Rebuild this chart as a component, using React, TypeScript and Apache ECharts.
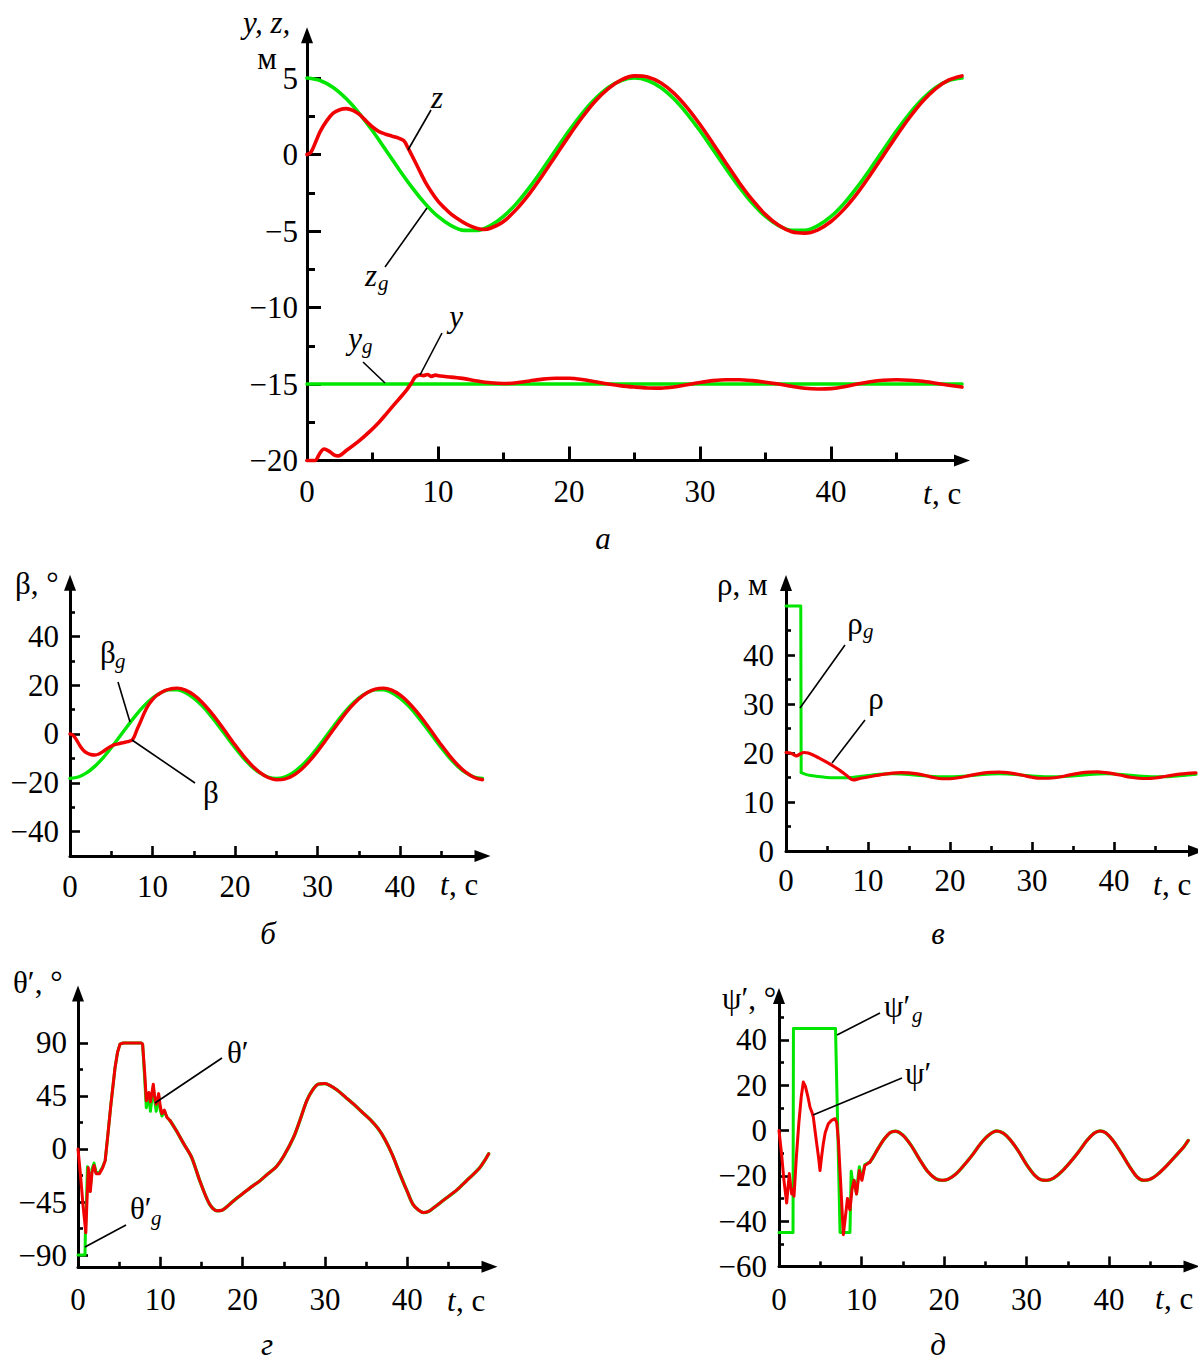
import React, { useEffect, useRef } from 'react';
import * as echarts from 'echarts';

const FONT = '"Liberation Serif", "Times New Roman", serif';
const RED = '#f00000';
const GREEN = '#00e600';
const INK = '#000000';

// ---------- shared time grid (s) ----------
const secs = [0,1,2,3,4,5,6,7,8,9,10,11,12,13,14,15,16,17,18,19,20,21,22,23,24,25,26,27,28,29,30,31,32,33,34,35,36,37,38,39,40,41,42,43,44,45,46,47,48,49,50];

// ---------- panel а : y, z (m) ----------
const zGoal = [5.00,4.84,4.38,3.64,2.68,1.55,0.31,-0.94,-2.13,-3.19,-4.05,-4.65,-4.96,-4.96,-4.65,-4.05,-3.19,-2.13,-0.94,0.31,1.55,2.68,3.64,4.38,4.84,5.00,4.84,4.38,3.64,2.68,1.55,0.31,-0.94,-2.13,-3.19,-4.05,-4.65,-4.96,-4.96,-4.65,-4.05,-3.19,-2.13,-0.94,0.31,1.55,2.68,3.64,4.38,4.84,5.00];
const zReal = [[0,0],[0.3,0.15],[0.7,0.9],[1,1.5],[1.5,2.2],[2,2.7],[2.5,2.93],[3,3.0],[3.5,2.88],[4,2.62],[4.5,2.2],[5,1.8],[5.5,1.5],[6,1.33],[6.5,1.2],[7,1.07],[7.4,0.9],[7.7,0.45],[8,-0.05],[8.5,-0.9],[9,-1.75],[9.5,-2.45],[10,-3.05],[10.5,-3.5],[11,-3.9],[11.5,-4.2],[12,-4.47],[12.5,-4.68],[13,-4.83],[13.5,-4.9],[14,-4.82],[15,-4.38],[16,-3.57],[17,-2.54],[18,-1.34],[19,-0.06],[20,1.22],[21,2.42],[22,3.48],[23,4.31],[24,4.88],[25,5.14],[26,5.07],[27,4.69],[28,4.01],[29,3.08],[30,1.96],[31,0.71],[32,-0.58],[33,-1.84],[34,-2.97],[35,-3.93],[36,-4.63],[37,-5.05],[38,-5.14],[39,-4.92],[40,-4.38],[41,-3.57],[42,-2.54],[43,-1.34],[44,-0.06],[45,1.22],[46,2.42],[47,3.48],[48,4.31],[49,4.88],[50,5.14]];
const yGoal = [[0,-15],[50,-15]];
const yReal = [[0,-20],[0.6,-20],[1,-19.5],[1.3,-19.25],[1.7,-19.4],[2.1,-19.65],[2.4,-19.7],[3,-19.35],[4,-18.7],[4.8,-18.1],[5.5,-17.5],[6.1,-16.9],[7,-16.0],[7.6,-15.4],[8,-14.9],[8.25,-14.55],[8.6,-14.4],[8.9,-14.45],[9.2,-14.38],[9.5,-14.5],[9.8,-14.42],[10.2,-14.48],[11,-14.55],[12,-14.65],[13,-14.8],[14,-14.92],[15,-14.97],[16,-14.92],[17,-14.8],[18,-14.68],[19,-14.62],[20,-14.62],[21,-14.7],[22,-14.85],[23,-15.0],[24,-15.12],[25,-15.2],[26,-15.26],[27,-15.27],[28,-15.2],[29,-15.05],[30,-14.9],[31,-14.78],[32,-14.72],[33,-14.72],[34,-14.78],[35,-14.88],[36,-15.0],[37,-15.15],[38,-15.28],[39,-15.33],[40,-15.3],[41,-15.18],[42,-15.0],[43,-14.85],[44,-14.75],[45,-14.72],[46,-14.75],[47,-14.82],[48,-14.95],[49,-15.08],[50,-15.2]];

// ---------- panel б : β (deg) ----------
const betaGoal = [-18.2,-17.63,-15.95,-13.27,-9.75,-5.62,-1.14,3.41,7.75,11.60,14.72,16.92,18.06,18.06,16.92,14.72,11.60,7.75,3.41,-1.14,-5.62,-9.75,-13.27,-15.95,-17.63,-18.2,-17.63,-15.95,-13.27,-9.75,-5.62,-1.14,3.41,7.75,11.60,14.72,16.92,18.06,18.06,16.92,14.72,11.60,7.75,3.41,-1.14,-5.62,-9.75,-13.27,-15.95,-17.63,-18.2];
const betaReal = [[0,0],[0.4,-0.6],[0.8,-2.5],[1.2,-4.8],[1.6,-6.6],[2,-7.7],[2.5,-8.4],[3,-8.6],[3.5,-8.2],[4,-7.2],[4.5,-6.0],[5,-5.0],[5.5,-4.3],[6,-3.9],[6.5,-3.5],[7,-3.1],[7.5,-2.5],[7.8,-1.0],[8.1,1.6],[8.5,4.6],[9,8.6],[9.5,11.8],[10,14.1],[10.5,15.8],[11,16.9],[11.5,17.8],[12,18.3],[12.5,18.65],[13,18.78],[14,17.95],[15,16.0],[16,13.04],[17,9.26],[18,4.9],[19,0.24],[20,-4.45],[21,-8.85],[22,-12.69],[23,-15.75],[24,-17.81],[25,-18.75],[26,-18.51],[27,-17.11],[28,-14.64],[29,-11.24],[30,-7.14],[31,-2.59],[32,2.12],[33,6.7],[34,10.86],[35,14.33],[36,16.91],[37,18.42],[38,18.78],[39,17.95],[40,16.0],[41,13.04],[42,9.26],[43,4.9],[44,0.24],[45,-4.45],[46,-8.85],[47,-12.69],[48,-15.75],[49,-17.81],[50,-18.75]];

// ---------- panel в : ρ (m) ----------
const rhoGoal = [[0,50],[1.8,50],[1.85,16],[2.5,15.6],[3,15.4],[4,15.2],[5,15.0],[6,14.95],[7,14.95],[8,15.0],[9,15.2],[10,15.4],[11,15.6],[12,15.7],[13,15.75],[14,15.7],[15,15.6],[16,15.45],[17,15.3],[18,15.2],[19,15.15],[20,15.15],[21,15.2],[22,15.3],[23,15.45],[24,15.6],[25,15.7],[26,15.75],[27,15.7],[28,15.6],[29,15.45],[30,15.3],[31,15.2],[32,15.15],[33,15.15],[34,15.2],[35,15.3],[36,15.45],[37,15.6],[38,15.7],[39,15.75],[40,15.7],[41,15.6],[42,15.45],[43,15.3],[44,15.2],[45,15.15],[46,15.15],[47,15.2],[48,15.35],[49,15.5],[50,15.65]];
const rhoReal = [[0,20.1],[0.5,20.0],[1,19.6],[1.3,19.4],[1.7,19.8],[2.2,20.1],[2.7,20.0],[3.3,19.6],[4,19.0],[4.9,18.2],[5.8,17.3],[6.6,16.4],[7.4,15.4],[8.2,14.5],[9,14.8],[10,15.1],[11,15.4],[12,15.7],[13,15.9],[14,16.0],[15,15.95],[16,15.75],[17,15.4],[18,15.0],[19,14.75],[20,14.75],[21,14.95],[22,15.25],[23,15.6],[24,15.9],[25,16.05],[26,16.1],[27,16.0],[28,15.75],[29,15.4],[30,15.05],[31,14.85],[32,14.85],[33,15.0],[34,15.3],[35,15.65],[36,15.95],[37,16.1],[38,16.15],[39,16.0],[40,15.75],[41,15.4],[42,15.05],[43,14.85],[44,14.8],[45,14.9],[46,15.15],[47,15.45],[48,15.7],[49,15.85],[50,15.95]];

// ---------- panel г : θ' (deg) ----------
const thetaRealEarly = [[0,0],[0.3,-22],[0.6,-47],[0.95,-71],[1.1,-42],[1.25,-16],[1.4,-30],[1.5,-36],[1.7,-20],[1.95,-14],[2.2,-21],[2.6,-21],[3,-16],[3.3,-10],[3.6,10],[4,38],[4.5,69],[4.8,82],[5.1,89],[5.5,90],[7.7,90],[7.85,89],[8.1,65],[8.3,41],[8.6,48],[8.8,40],[9.15,55],[9.3,45],[9.5,38],[9.8,47],[10,36],[10.2,30],[10.5,33],[10.8,27],[11.2,24]];
const thetaGoalEarly = [[0,-90],[0.85,-90],[0.9,-70],[1.05,-40],[1.15,-15],[1.3,-30],[1.45,-36],[1.7,-17],[1.95,-12],[2.2,-20],[2.6,-20],[3,-15],[3.3,-10],[3.6,10],[4,38],[4.5,69],[4.8,82],[5.1,89],[5.5,90],[7.7,90],[7.85,89],[8.1,60],[8.3,35],[8.6,46],[8.8,32],[9.15,53],[9.3,42],[9.5,32],[9.8,45],[10,33],[10.2,28],[10.5,32],[10.8,27],[11.2,24]];
const thetaLate = [[11.2,24],[12,15],[12.8,5],[13.8,-7],[14.8,-27],[16,-47],[16.9,-52.5],[17.5,-52],[18,-49.5],[18.9,-44],[20,-38],[21,-32.5],[22.1,-27],[23,-21.5],[24.1,-15],[25,-6],[26.2,10],[27,25],[27.8,41],[28.5,50],[29.2,55],[30,55.5],[30.6,54],[31.5,50],[32.5,44],[33.5,38],[34.5,31.5],[35.5,25],[36.5,17],[37.3,8],[38.2,-5],[39.1,-21],[40,-36],[40.7,-47],[41.4,-52],[42,-54],[42.6,-53],[43.2,-50],[44.5,-43],[46,-35],[47.2,-27],[48.1,-21],[48.8,-16],[49.4,-10],[49.9,-4]];

// ---------- panel д : ψ' (deg) ----------
const psiRealEarly = [[0,0],[0.3,-10],[0.6,-22],[0.93,-32],[1.1,-25],[1.25,-19],[1.4,-24],[1.53,-28],[1.65,-26],[1.82,-29],[2.1,-12],[2.4,3],[2.7,15],[2.95,21.4],[3.2,19.5],[3.5,15],[3.76,10.3],[4.0,8],[4.16,5.9],[4.4,-1],[4.57,-5.8],[4.8,-12],[4.97,-17.7],[5.15,-12],[5.37,-5.8],[5.6,-1],[5.98,3],[6.4,4.6],[6.8,5.2],[7.0,3.5],[7.2,-4.4],[7.5,-25],[7.8,-46],[8.05,-38],[8.3,-30],[8.45,-33],[8.6,-35],[8.85,-26],[9.1,-22],[9.25,-25],[9.4,-28],[9.6,-22],[9.74,-17.7],[9.9,-20],[10.05,-22],[10.4,-15.5],[11,-14]];
const psiGoalEarly = [[0,-45],[1.7,-45],[1.75,45],[6.85,45],[7.4,-45],[8.6,-45],[8.75,-18],[8.9,-22],[9.1,-22],[9.25,-25],[9.4,-28],[9.6,-20],[9.74,-16],[9.9,-19],[10.05,-21],[10.4,-15],[11,-14]];
const psiLate = [[11,-14],[11.4,-11.8],[12,-8],[12.7,-4],[13.45,-1],[14.1,-0.3],[15,-2],[16,-6.5],[17,-12.5],[18,-18],[19,-21.3],[19.8,-22],[20.5,-21.5],[21.5,-19],[22.5,-15],[23.5,-10.5],[24.5,-5.5],[25.5,-1.8],[26.4,-0.2],[27.2,-1.2],[28,-4],[29,-9],[30,-15],[31,-19.8],[31.8,-21.8],[32.5,-22],[33.3,-21],[34.3,-18],[35.3,-14],[36.3,-9.5],[37.3,-4.5],[38.2,-1.2],[38.9,-0.2],[39.6,-1],[40.5,-4.5],[41.5,-10],[42.5,-16],[43.4,-20.5],[44.2,-22],[45,-21.5],[46,-19],[47,-15.5],[48,-11.5],[49,-7.5],[49.6,-4.4]];

// ---------- tick lists ----------
const tMajor = [0, 10, 20, 30, 40];
const tMinor = [5, 15, 25, 35, 45];
const aMajor = [-20, -15, -10, -5, 0, 5];
const aMinor = [-17.5, -12.5, -7.5, -2.5, 2.5];
const bMajor = [-40, -20, 0, 20, 40];
const bMinor = [-30, -10, 10, 30, 50];
const vMajor = [0, 10, 20, 30, 40];
const vMinor = [5, 15, 25, 35, 45];
const gMajor = [-90, -45, 0, 45, 90];
const gMinor = [-67.5, -22.5, 22.5, 67.5];
const dMajor = [-60, -40, -20, 0, 20, 40];
const dMinor = [-50, -30, -10, 10, 30, 50];

type PanelCfg = {
  left: number; top: number; width: number; height: number;
  xMax: number; yMin: number; yMax: number;
  yMajor: number[]; yMinor: number[];
  majorLen: number; minorLen: number; tickW: number;
  yMargin: number; xMargin: number;
};

const panels: PanelCfg[] = [
  { left: 307, top: 35.2, width: 655, height: 425.3, xMax: 50, yMin: -20, yMax: 7.8, yMajor: aMajor, yMinor: aMinor, majorLen: 14, minorLen: 8, tickW: 3, yMargin: 9, xMargin: 15 },
  { left: 70, top: 582.7, width: 412.5, height: 273.3, xMax: 50, yMin: -50, yMax: 62, yMajor: bMajor, yMinor: bMinor, majorLen: 10, minorLen: 5, tickW: 2.6, yMargin: 11, xMargin: 15 },
  { left: 786, top: 583, width: 410, height: 268, xMax: 50, yMin: 0, yMax: 54.7, yMajor: vMajor, yMinor: vMinor, majorLen: 9, minorLen: 5, tickW: 2.6, yMargin: 12, xMargin: 14 },
  { left: 78, top: 993.5, width: 411.5, height: 273.3, xMax: 50, yMin: -100, yMax: 132, yMajor: gMajor, yMinor: gMinor, majorLen: 10, minorLen: 5, tickW: 2.6, yMargin: 11, xMargin: 17 },
  { left: 779, top: 996, width: 412.5, height: 270.4, xMax: 50, yMin: -60, yMax: 59.4, yMajor: dMajor, yMinor: dMinor, majorLen: 10, minorLen: 5, tickW: 2.6, yMargin: 12, xMargin: 18 },
];

const fmt = (v: number) => String(v).replace('-', '\u2212');

function buildOption() {
  const grid: any[] = [];
  const xAxis: any[] = [];
  const yAxis: any[] = [];
  panels.forEach((p, i) => {
    grid.push({ left: p.left, top: p.top, width: p.width, height: p.height, show: false, containLabel: false, outerBoundsMode: 'none' });
    const lineStyle = { color: INK, width: 3 };
    const labelStyle = { color: INK, fontFamily: FONT, fontSize: 31 };
    xAxis.push({
      type: 'value', gridIndex: i, position: 'bottom', min: 0, max: p.xMax,
      axisLine: { show: true, onZero: false, symbol: ['none', 'triangle'], symbolSize: [12, 16], lineStyle },
      axisTick: { show: true, inside: true, length: p.majorLen, customValues: tMajor, lineStyle: { color: INK, width: p.tickW } },
      axisLabel: { show: true, customValues: tMajor, margin: p.xMargin, formatter: fmt, ...labelStyle },
      splitLine: { show: false }, minorTick: { show: false },
    });
    xAxis.push({
      type: 'value', gridIndex: i, position: 'bottom', min: 0, max: p.xMax,
      axisLine: { show: false, onZero: false },
      axisTick: { show: true, inside: true, length: p.minorLen, customValues: tMinor, lineStyle: { color: INK, width: p.tickW } },
      axisLabel: { show: false }, splitLine: { show: false },
    });
    yAxis.push({
      type: 'value', gridIndex: i, position: 'left', min: p.yMin, max: p.yMax,
      axisLine: { show: true, onZero: false, symbol: ['none', 'triangle'], symbolSize: [12, 16], lineStyle },
      axisTick: { show: true, inside: true, length: p.majorLen, customValues: p.yMajor, lineStyle: { color: INK, width: p.tickW } },
      axisLabel: { show: true, customValues: p.yMajor, margin: p.yMargin, formatter: fmt, ...labelStyle },
      splitLine: { show: false }, minorTick: { show: false },
    });
    yAxis.push({
      type: 'value', gridIndex: i, position: 'left', min: p.yMin, max: p.yMax,
      axisLine: { show: false, onZero: false },
      axisTick: { show: true, inside: true, length: p.minorLen, customValues: p.yMinor, lineStyle: { color: INK, width: p.tickW } },
      axisLabel: { show: false }, splitLine: { show: false },
    });
  });

  const ser = (g: number, data: any[], color: string, width: number, smooth: number | boolean, z: number) => ({
    type: 'line', xAxisIndex: 2 * g, yAxisIndex: 2 * g, data, symbol: 'none', showSymbol: false, smooth,
    lineStyle: { color, width, cap: 'round', join: 'round' }, itemStyle: { color }, z, silent: true, clip: false,
  });
  const pairs = (vals: number[]) => vals.map((v, k) => [secs[k], v]);

  const series = [
    ser(0, pairs(zGoal), GREEN, 3.6, 0.3, 3),
    ser(0, yGoal, GREEN, 3.6, false, 3),
    ser(0, zReal, RED, 3.6, 0.3, 4),
    ser(0, yReal, RED, 3.6, 0.3, 4),
    ser(1, pairs(betaGoal), GREEN, 3.4, 0.3, 3),
    ser(1, betaReal, RED, 3.4, 0.3, 4),
    ser(2, rhoGoal.slice(0, 3), GREEN, 3, false, 3),
    ser(2, rhoGoal.slice(2), GREEN, 3, 0.3, 3),
    ser(2, rhoReal, RED, 3.2, 0.3, 4),
    ser(3, thetaGoalEarly, GREEN, 3, false, 3),
    ser(3, thetaLate, GREEN, 3.4, 0.3, 3),
    ser(3, thetaRealEarly, RED, 3, false, 4),
    ser(3, thetaLate, RED, 3, 0.3, 4),
    ser(4, psiGoalEarly, GREEN, 3, false, 3),
    ser(4, psiLate, GREEN, 3.4, 0.3, 3),
    ser(4, psiRealEarly, RED, 3, false, 4),
    ser(4, psiLate, RED, 3, 0.3, 4),
  ];

  const T = (x: number, y: number, text: string, italic = false, align = 'center', size = 31) => ({
    type: 'text', x, y, z: 100, silent: true,
    style: { text, fill: INK, font: `${italic ? 'italic ' : ''}${size}px ${FONT}`, align, verticalAlign: 'middle', textAlign: align, textVerticalAlign: 'middle' },
  });
  const L = (x1: number, y1: number, x2: number, y2: number) => ({
    type: 'line', z: 100, silent: true, shape: { x1, y1, x2, y2 }, style: { stroke: INK, lineWidth: 1.6 },
  });
  const TC = (x: number, y: number) => [T(x, y, 't', true, 'left'), T(x + 9, y, ', с', false, 'left')];

  const graphic = [
    // panel а
    T(243, 22, 'y, z,', true, 'left'),
    T(267, 58, 'м'),
    ...TC(923, 493),
    T(603, 538, 'а', true),
    T(437, 97, 'z', true), L(431, 110, 408, 150),
    T(371, 275, 'z', true), T(378, 283, 'g', true, 'left', 21), L(427, 208, 385, 267),
    T(456, 316, 'y', true), L(442, 333, 420, 375),
    T(355, 338, 'y', true), T(362, 346, 'g', true, 'left', 21), L(363, 362, 385, 383),
    // panel б
    T(15, 583, 'β, °', false, 'left'),
    ...TC(440, 884),
    T(268, 933, 'б', true),
    T(108, 652, 'β'), T(115, 661, 'g', true, 'left', 21), L(118, 682, 130, 722),
    T(211, 792, 'β'), L(132, 740, 195, 783),
    // panel в
    T(717, 584, 'ρ, м', false, 'left'),
    ...TC(1153, 884),
    T(938, 933, 'в', true),
    T(855, 623, 'ρ'), T(863, 631, 'g', true, 'left', 21), L(845, 645, 800, 708),
    T(876, 698, 'ρ'), L(865, 720, 832, 763),
    // panel г
    T(13, 982, 'θ′, °', false, 'left'),
    ...TC(447, 1300),
    T(267, 1344, 'г', true),
    T(227, 1052, 'θ′', false, 'left'), L(222, 1058, 155, 1103),
    T(130, 1208, 'θ′', false, 'left'), T(151, 1218, 'g', true, 'left', 21), L(126, 1225, 85, 1247),
    // panel д
    T(722, 998, 'ψ′, °', false, 'left'),
    ...TC(1155, 1298),
    T(938, 1344, 'д', true),
    T(884, 1006, 'ψ′', false, 'left'), T(912, 1015, 'g', true, 'left', 21), L(880, 1013, 837, 1035),
    T(905, 1073, 'ψ′', false, 'left'), L(902, 1078, 813, 1115),
  ];

  return { animation: false, backgroundColor: '#ffffff', grid, xAxis, yAxis, series, graphic };
}

export default function App() {
  const ref = useRef<HTMLDivElement>(null);
  useEffect(() => {
    if (!ref.current) return;
    const chart = echarts.init(ref.current, null, { renderer: 'svg' });
    chart.setOption(buildOption() as any);
    return () => chart.dispose();
  }, []);
  return <div ref={ref} style={{ position: 'absolute', left: 0, top: 0, width: 1198, height: 1363, background: '#fff' }} />;
}
